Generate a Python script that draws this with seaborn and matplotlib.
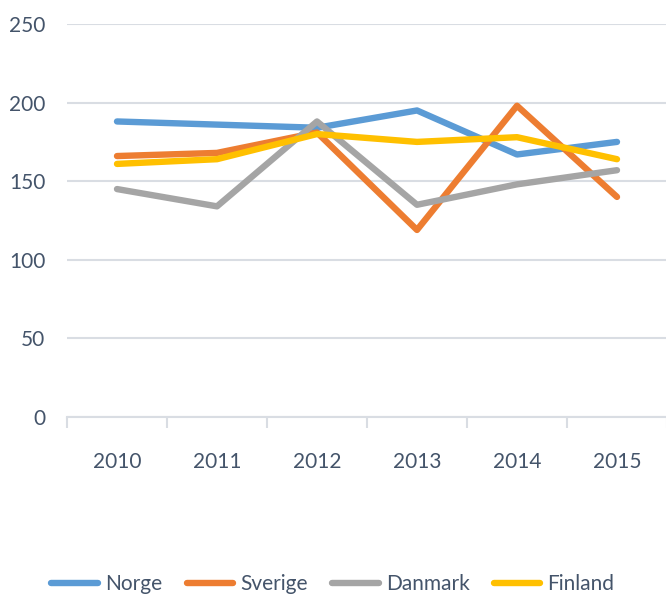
import numpy as np
import pandas as pd
import matplotlib
matplotlib.use('Agg')
import matplotlib.pyplot as plt
import seaborn as sns
from matplotlib.ticker import FixedLocator

years = ['2010', '2011', '2012', '2013', '2014', '2015']
norge = [188, 186, 184, 195, 167, 175]
sverige = [166, 168, 181, 119, 198, 140]
danmark = [145, 134, 188, 135, 148, 157]
finland = [161, 164, 180, 175, 178, 164]
series = ['Norge', 'Sverige', 'Danmark', 'Finland']
colors = ['#5B9BD5', '#ED7D31', '#A5A5A5', '#FFC000']

df = pd.DataFrame({'year': years * 4,
                   'value': norge + sverige + danmark + finland,
                   'land': np.repeat(series, len(years))})

sns.set_style('white')
plt.rcParams['font.family'] = ['Lato', 'DejaVu Sans']
text_color = '#44546A'
grid_color = '#D9DDE3'

fig = plt.figure(figsize=(6.66, 5.97), dpi=100)
ax = fig.add_axes([0.1006, 0.3015, 0.9009, 0.6583])
sns.lineplot(data=df, x='year', y='value', hue='land', palette=colors,
             linewidth=4.6, ax=ax, legend=False, solid_capstyle='round')

ax.set_xlim(-0.5, 5.5)
ax.set_ylim(0, 250)
ax.set_yticks([0, 50, 100, 150, 200, 250])
ax.yaxis.grid(True, color=grid_color, linewidth=1.5)
ax.set_axisbelow(True)
ax.spines[['right', 'top', 'left']].set_visible(False)
ax.spines['bottom'].set_color(grid_color)
ax.spines['bottom'].set_linewidth(1.5)
ax.set_xlabel(None)
ax.set_ylabel(None)
ax.tick_params(axis='y', left=False, pad=12, labelsize=15, labelcolor=text_color)
ax.tick_params(axis='x', which='major', bottom=False, pad=22, labelsize=15, labelcolor=text_color)
ax.xaxis.set_minor_locator(FixedLocator(np.arange(-0.5, 6, 1)))
ax.tick_params(axis='x', which='minor', bottom=True, length=8, width=1.5, color=grid_color)

handles = [plt.Line2D([], [], color=c, linewidth=4.6, solid_capstyle='round') for c in colors]
fig.legend(handles, series, loc='center', bbox_to_anchor=(0.5, 0.022), ncol=4, frameon=False,
           fontsize=15, labelcolor=text_color, handlelength=2.25, handletextpad=0.34,
           columnspacing=1.15)

fig.savefig('out.png', dpi=100)
